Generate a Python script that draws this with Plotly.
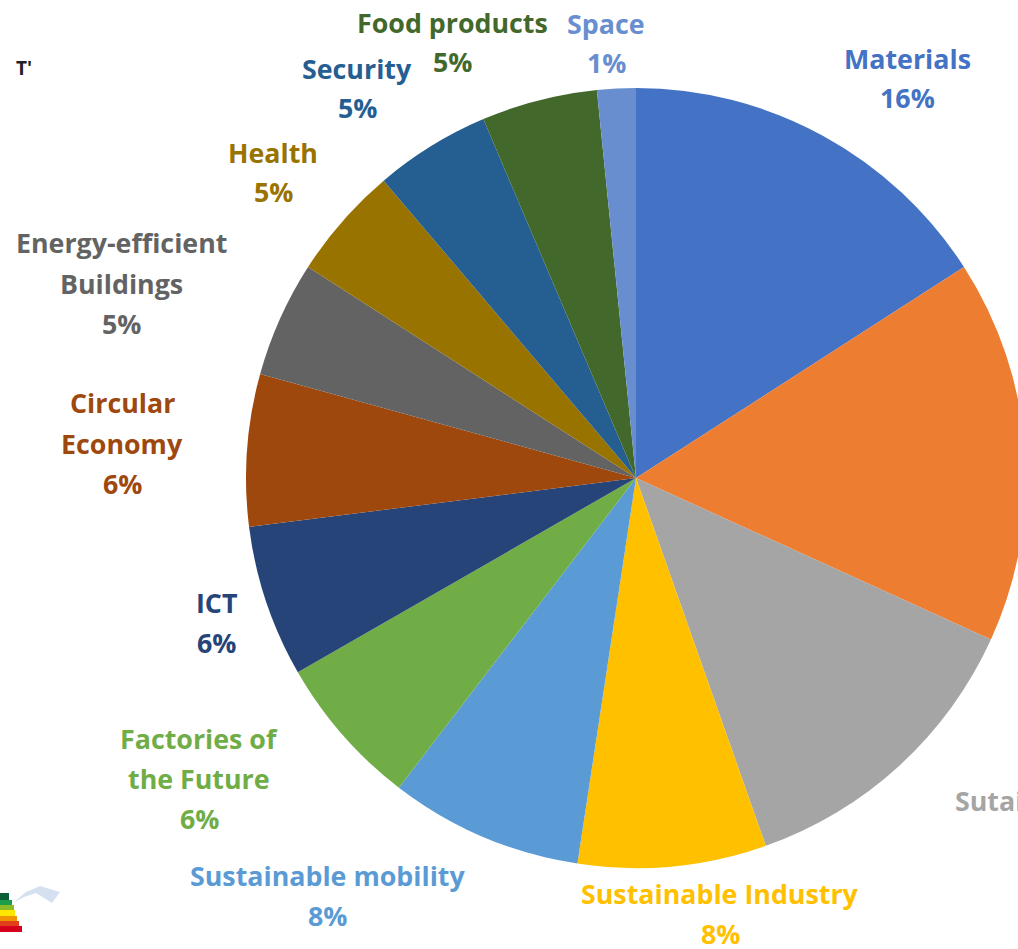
import plotly.graph_objects as go

W, H = 1200, 949
CX, CY, R = 636, 478, 390

categories = ["Materials", "Energy", "Sutainable Energy", "Sustainable Industry", "Sustainable mobility",
              "Factories of the Future", "ICT", "Circular Economy", "Energy-efficient Buildings",
              "Health", "Security", "Food products", "Space"]
values = [15.9, 15.9, 12.8, 7.8, 8.0, 6.3, 6.3, 6.3, 4.8, 4.7, 4.8, 4.8, 1.6]
colors = ["#4472C4", "#ED7D31", "#A5A5A5", "#FFC000", "#5B9BD5", "#70AD47", "#264478",
          "#9E480E", "#636363", "#997300", "#255E91", "#43682B", "#698ED0"]

label_lines = [["Materials", "16%"], ["Sustainable Industry", "8%"], ["Sustainable mobility", "8%"],
               ["Factories of", "the Future", "6%"], ["ICT", "6%"], ["Circular", "Economy", "6%"],
               ["Energy-efficient", "Buildings", "5%"], ["Health", "5%"], ["Security", "5%"],
               ["Food products", "5%"], ["Space", "1%"]]
label_colors = ["#4472C4", "#FFC000", "#5B9BD5", "#70AD47", "#264478", "#9E480E", "#636363",
                "#997300", "#255E91", "#43682B", "#698ED0"]
label_x = [907, 720, 327, 199, 216, 122, 121, 273, 357, 452, 606]
label_first_y = [58, 893, 875, 738, 602, 403, 243, 152, 68, 22, 23]
LINE_GAP = 40

stripe_colors = ["#0B5E36", "#1E9E4A", "#8DBB25", "#FFE600", "#F29400", "#E2401B", "#D5001C"]
stripe_top = [893, 900, 905, 910, 916, 921, 926]
stripe_bottom = [900, 905, 910, 916, 921, 926, 932]
stripe_right = [9, 12, 14, 15, 17, 19, 22]

def px(x):
    return x / W

def py(y):
    return 1 - y / H

fig = go.Figure(go.Pie(
    labels=categories, values=values, sort=False, direction="clockwise", rotation=0,
    textinfo="none", hoverinfo="label+percent",
    marker=dict(colors=colors, line=dict(width=0)),
    domain=dict(x=[px(CX - R), px(CX + R)], y=[py(CY + R), py(CY - R)]),
    showlegend=False,
))

FONT = "Open Sans"
annotations = []
for lines, c, x, y0 in zip(label_lines, label_colors, label_x, label_first_y):
    for i, line in enumerate(lines):
        annotations.append(dict(x=px(x), y=py(y0 + i * LINE_GAP), xref="paper", yref="paper",
                                text=f"<b>{line}</b>", showarrow=False,
                                xanchor="center", yanchor="middle", align="center",
                                font=dict(family=FONT, size=26.8, color=c)))
annotations.append(dict(x=px(953), y=py(800), xref="paper", yref="paper", text="<b>Sutainable Energy</b>",
                        showarrow=False, xanchor="left", yanchor="middle",
                        font=dict(family=FONT, size=26.8, color="#A5A5A5")))
annotations.append(dict(x=px(24), y=py(68), xref="paper", yref="paper", text="<b>T'</b>", showarrow=False,
                        xanchor="center", yanchor="middle", font=dict(family=FONT, size=19, color="#222222")))

shapes = [dict(type="rect", xref="paper", yref="paper", x0=0, x1=px(r), y0=py(b), y1=py(t),
               fillcolor=c, line=dict(width=0))
          for c, t, b, r in zip(stripe_colors, stripe_top, stripe_bottom, stripe_right)]
shapes.append(dict(type="path", xref="paper", yref="paper",
                   path=f"M {px(13)} {py(903)} L {px(26)} {py(892)} L {px(40)} {py(886)} L {px(60)} {py(892)} "
                        f"L {px(52)} {py(903)} L {px(36)} {py(893)} L {px(24)} {py(897)} Z",
                   fillcolor="#D5E1F0", line=dict(width=0)))

fig.update_layout(width=W, height=H, margin=dict(l=0, r=0, t=0, b=0), paper_bgcolor="white",
                  annotations=annotations, shapes=shapes)

fig.write_html("out.html", config=dict(displayModeBar=False),
               post_script="document.documentElement.style.overflow='hidden';document.body.style.overflow='hidden';document.body.style.margin='0';")
